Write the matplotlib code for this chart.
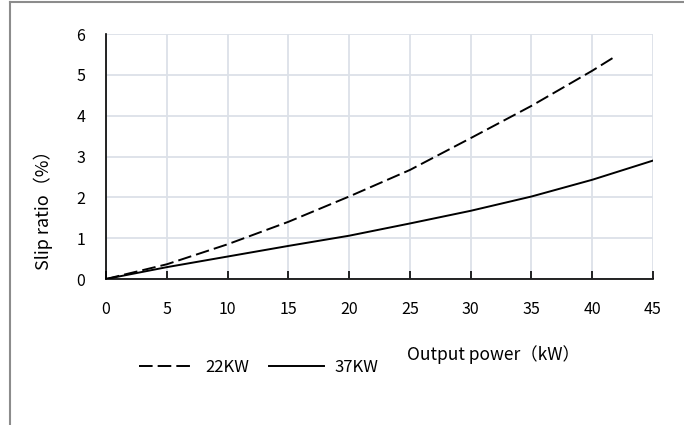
import matplotlib.pyplot as plt
from matplotlib.lines import Line2D

plt.rcParams['font.family'] = ['Noto Sans CJK SC', 'DejaVu Sans']

power_22 = [0, 5, 10, 15, 20, 25, 30, 35, 40, 42]
slip_22 = [0, 0.36, 0.85, 1.40, 2.02, 2.67, 3.45, 4.24, 5.10, 5.47]
power_37 = [0, 5, 10, 15, 20, 25, 30, 35, 40, 45]
slip_37 = [0, 0.29, 0.55, 0.81, 1.06, 1.36, 1.67, 2.02, 2.43, 2.90]
x_ticks = [0, 5, 10, 15, 20, 25, 30, 35, 40, 45]
y_ticks = [0, 1, 2, 3, 4, 5, 6]

fig = plt.figure(figsize=(6.84, 4.25), dpi=100)
ax = fig.add_axes([106/684, 1-279/425, 547/684, 245/425])

ax.plot(power_22, slip_22, color='black', lw=1.4, dashes=(7, 2.6), label='22KW')
ax.plot(power_37, slip_37, color='black', lw=1.4, label='37KW')

ax.set_xlim(0, 45)
ax.set_ylim(0, 6)
ax.set_xticks(x_ticks)
ax.set_yticks(y_ticks)
ax.grid(True, color='#dce1e8', lw=1.3)
ax.set_axisbelow(True)
for s in ['top', 'right']:
    ax.spines[s].set_visible(False)
for s in ['left', 'bottom']:
    ax.spines[s].set_linewidth(1.2)
ax.tick_params(axis='x', direction='in', length=6, width=1.2, pad=16, labelsize=11.5)
ax.tick_params(axis='y', length=0, pad=15, labelsize=11.5)

fig.text(43/684, 1-206/425, 'Slip ratio（%）', rotation=90, ha='center', va='center', fontsize=13)
fig.text(407/684, 1-355/425, 'Output power（kW）', ha='left', va='center', fontsize=12.5)

fig.legend(loc='center left', bbox_to_anchor=(124/684, 1-367/425), ncol=2, frameon=False,
           fontsize=12, handlelength=3.3, columnspacing=1.2, handletextpad=0.65)

# outer border (clipped at right and bottom)
fig.add_artist(Line2D([10/684, 10/684], [0, 1-2/425], color='#8c8c8c', lw=1.5))
fig.add_artist(Line2D([10/684, 1], [1-2/425, 1-2/425], color='#8c8c8c', lw=1.5))

fig.savefig('out.png', dpi=100)
